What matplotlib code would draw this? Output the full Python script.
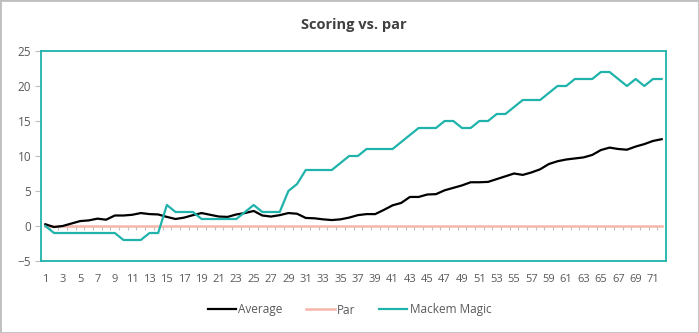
import matplotlib
matplotlib.use("Agg")
import matplotlib.pyplot as plt
from matplotlib.patches import Rectangle

plt.rcParams['font.family'] = ['Open Sans', 'DejaVu Sans']

# round-by-round scoring relative to par
rounds = list(range(1, 73))

average = [0.25, -0.15, 0.0, 0.35, 0.7, 0.8, 1.05, 0.9, 1.5, 1.5,
           1.6, 1.85, 1.7, 1.65, 1.3, 1.0, 1.2, 1.55, 1.85, 1.6,
           1.35, 1.3, 1.65, 1.85, 2.15, 1.5, 1.35, 1.55, 1.85, 1.75,
           1.15, 1.1, 0.95, 0.85, 0.95, 1.2, 1.55, 1.7, 1.7, 2.3,
           2.95, 3.3, 4.15, 4.15, 4.5, 4.55, 5.1, 5.45, 5.8, 6.25,
           6.25, 6.3, 6.7, 7.1, 7.5, 7.3, 7.65, 8.1, 8.85, 9.25,
           9.5, 9.65, 9.8, 10.15, 10.85, 11.2, 11.0, 10.9, 11.35, 11.7,
           12.15, 12.4]

par = [0] * 72

mackem_magic = [0, -1, -1, -1, -1, -1, -1, -1, -1, -2,
                -2, -2, -1, -1, 3, 2, 2, 2, 1, 1,
                1, 1, 1, 2, 3, 2, 2, 2, 5, 6,
                8, 8, 8, 8, 9, 10, 10, 11, 11, 11,
                11, 12, 13, 14, 14, 14, 15, 15, 14, 14,
                15, 15, 16, 16, 17, 18, 18, 18, 19, 20,
                20, 21, 21, 21, 22, 22, 21, 20, 21, 20,
                21, 21]

teal = '#1fb3ab'
text_grey = '#595959'

fig = plt.figure(figsize=(6.99, 3.33), dpi=100)
ax = fig.add_axes([41 / 699, 72 / 333, 625 / 699, 210 / 333])

x = list(range(len(rounds)))
ax.plot(x, average, color='black', lw=1.6, label='Average', zorder=4)
ax.plot(x, par, color='#f7b6aa', lw=1.8, label='Par', zorder=3)
ax.plot(x, mackem_magic, color=teal, lw=1.6, label='Mackem Magic', zorder=5)

# category tick marks hang from the zero line
bounds = [i + 0.5 for i in x[:-1]]
ax.vlines(bounds, -0.6, 0, color='#bfbfbf', lw=0.8, zorder=2)

ax.set_xlim(-0.5, len(rounds) - 0.5)
ax.set_ylim(-5, 25)
ax.set_xticks(x[::2])
ax.set_xticklabels([str(r) for r in rounds[::2]])
ax.set_yticks(range(-5, 26, 5))
ax.tick_params(axis='x', length=0, pad=9, labelsize=8, labelcolor=text_grey)
ax.tick_params(axis='y', length=4, width=0.8, color='#bfbfbf', pad=3,
               labelsize=8.5, labelcolor=text_grey)

for s in ax.spines.values():
    s.set_color(teal)
    s.set_linewidth(1.3)

ax.set_title('Scoring vs. par', fontsize=10.5, fontweight='bold', color='#404040', pad=16)

ax.legend(loc='center', bbox_to_anchor=(0.5, 23 / 333), bbox_transform=fig.transFigure,
          ncol=3, frameon=False, fontsize=8.5, handlelength=2.4, handletextpad=0.2,
          columnspacing=2.0, labelcolor=text_grey)

fig.patches.append(Rectangle((0, 0), 1, 1, transform=fig.transFigure, fill=False,
                             edgecolor='#bfbfbf', lw=2))

plt.savefig('out.png', dpi=100)
